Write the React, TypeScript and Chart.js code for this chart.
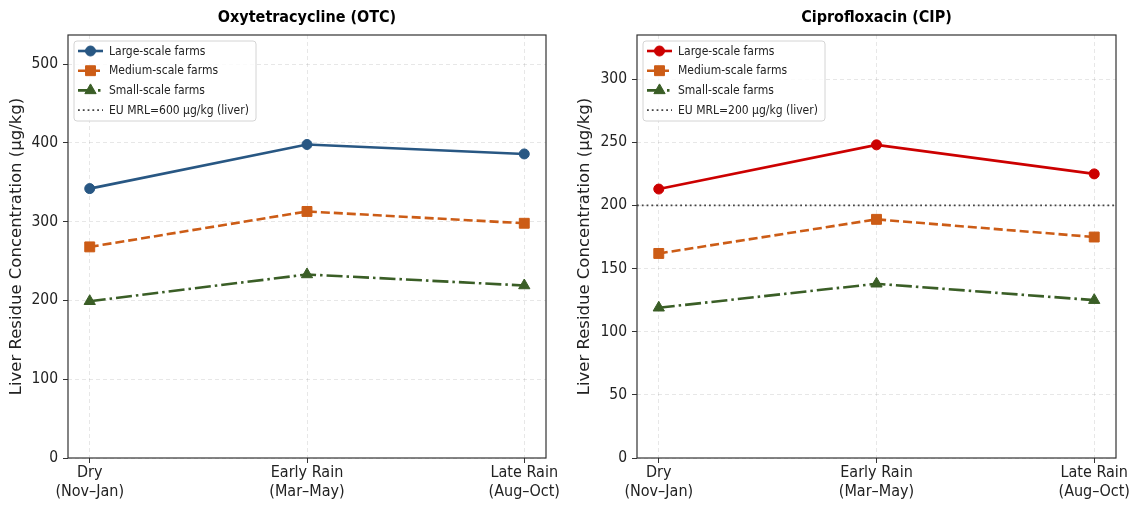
import React, { useEffect, useRef } from 'react';
import { Chart, registerables } from 'chart.js';
import { drawPoint } from 'chart.js/helpers';

Chart.register(...registerables);

const seasonLabels = [
  ['Dry', '(Nov–Jan)'],
  ['Early Rain', '(Mar–May)'],
  ['Late Rain', '(Aug–Oct)'],
];
const seriesNames = ['Large-scale farms', 'Medium-scale farms', 'Small-scale farms'];

const otcLarge = [342, 398, 386];
const otcMedium = [268, 313, 298];
const otcSmall = [199, 233, 219];
const otcMrl = 600;
const otcYMax = 537;
const otcYStep = 100;

const cipLarge = [213, 248, 225];
const cipMedium = [162, 189, 175];
const cipSmall = [119, 138, 125];
const cipMrl = 200;
const cipYMax = 335;
const cipYStep = 50;

const FONT = '"DejaVu Sans Condensed", "DejaVu Sans", sans-serif';
const FONT_V = '"DejaVu Sans", sans-serif';

const toXY = (vals: number[]) => vals.map((v, i) => ({ x: i, y: v }));

const framePlugin = {
  id: 'frame',
  afterDatasetsDraw(chart: any) {
    const { ctx, chartArea } = chart;
    ctx.save();
    ctx.strokeStyle = '#333';
    ctx.lineWidth = 1.2;
    ctx.setLineDash([]);
    ctx.strokeRect(chartArea.left, chartArea.top, chartArea.right - chartArea.left, chartArea.bottom - chartArea.top);
    ctx.restore();
  },
};

const boxLegendPlugin = {
  id: 'boxLegend',
  afterDraw(chart: any) {
    const { ctx, chartArea } = chart;
    const x0 = chartArea.left + 6;
    const y0 = chartArea.top + 6;
    const w = 182;
    const h = 80;
    ctx.save();
    ctx.beginPath();
    if (ctx.roundRect) ctx.roundRect(x0, y0, w, h, 3);
    else ctx.rect(x0, y0, w, h);
    ctx.fillStyle = 'rgba(255,255,255,0.8)';
    ctx.fill();
    ctx.strokeStyle = '#d4d4d4';
    ctx.lineWidth = 1;
    ctx.stroke();
    chart.data.datasets.forEach((ds: any, i: number) => {
      const cy = y0 + 10 + i * 19.7;
      ctx.save();
      ctx.strokeStyle = ds.borderColor;
      ctx.lineWidth = ds.borderWidth;
      ctx.setLineDash(ds.borderDash || []);
      ctx.beginPath();
      ctx.moveTo(x0 + 4, cy);
      ctx.lineTo(x0 + 29, cy);
      ctx.stroke();
      ctx.restore();
      if (ds.pointRadius > 0) {
        ctx.save();
        ctx.fillStyle = ds.pointBackgroundColor;
        ctx.strokeStyle = ds.pointBorderColor;
        ctx.lineWidth = 1;
        drawPoint(ctx, { pointStyle: ds.pointStyle, rotation: 0, radius: ds.pointRadius, borderWidth: 1 }, x0 + 16.5, cy);
        ctx.restore();
      }
      ctx.fillStyle = '#222';
      ctx.font = `12px ${FONT}`;
      ctx.textBaseline = 'middle';
      ctx.textAlign = 'left';
      ctx.fillText(ds.label, x0 + 35, cy + 0.5);
    });
    ctx.restore();
  },
};

function makeConfig(
  title: string,
  large: number[],
  medium: number[],
  small: number[],
  largeColor: string,
  mrl: number,
  yMax: number,
  yStep: number,
  yAxisWidth: number,
  rightPad: number
): any {
  const orange = '#cc5c16';
  const green = '#3a5e26';
  return {
    type: 'line',
    data: {
      datasets: [
        {
          label: seriesNames[0],
          data: toXY(large),
          borderColor: largeColor,
          backgroundColor: largeColor,
          pointBackgroundColor: largeColor,
          pointBorderColor: largeColor,
          borderWidth: 2.6,
          pointStyle: 'circle',
          pointRadius: 5,
          pointBorderWidth: 1,
        },
        {
          label: seriesNames[1],
          data: toXY(medium),
          borderColor: orange,
          backgroundColor: orange,
          pointBackgroundColor: orange,
          pointBorderColor: orange,
          borderWidth: 2.6,
          borderDash: [9, 4],
          pointStyle: 'rect',
          pointRadius: 7,
          pointBorderWidth: 1,
        },
        {
          label: seriesNames[2],
          data: toXY(small),
          borderColor: green,
          backgroundColor: green,
          pointBackgroundColor: green,
          pointBorderColor: green,
          borderWidth: 2.6,
          borderDash: [16, 4, 2.5, 4],
          pointStyle: 'triangle',
          pointRadius: 6.5,
          pointBorderWidth: 1,
        },
        {
          label: `EU MRL=${mrl} µg/kg (liver)`,
          data: [
            { x: -0.1, y: mrl },
            { x: 2.1, y: mrl },
          ],
          borderColor: '#444',
          backgroundColor: '#444',
          borderWidth: 1.8,
          borderDash: [1.8, 3],
          pointRadius: 0,
        },
      ],
    },
    options: {
      animation: false,
      responsive: false,
      devicePixelRatio: 1,
      layout: { padding: { left: 0, right: rightPad, top: 0, bottom: 0 } },
      plugins: {
        legend: { display: false },
        tooltip: { enabled: false },
        title: {
          display: true,
          text: title,
          fullSize: false,
          color: '#000',
          font: { family: FONT, size: 16, weight: 'bold', lineHeight: 1.2 },
          padding: { top: 8, bottom: 7.8 },
        },
      },
      scales: {
        x: {
          type: 'linear',
          min: -0.1,
          max: 2.1,
          afterBuildTicks: (scale: any) => {
            scale.ticks = seasonLabels.map((_, i) => ({ value: i }));
          },
          afterFit: (scale: any) => {
            scale.height = 51;
          },
          ticks: {
            callback: (v: number) => seasonLabels[Math.round(v)],
            color: '#222',
            font: { family: FONT, size: 16, lineHeight: 1.15 },
            padding: 1,
            maxRotation: 0,
            autoSkip: false,
          },
          grid: {
            color: 'rgba(0,0,0,0.12)',
            lineWidth: 0.8,
            tickColor: '#333',
            tickLength: 5,
            tickWidth: 1,
          },
          border: { display: false, dash: [4, 3] },
        },
        y: {
          type: 'linear',
          min: 0,
          max: yMax,
          afterFit: (scale: any) => {
            scale.width = yAxisWidth;
          },
          ticks: {
            stepSize: yStep,
            includeBounds: false,
            color: '#222',
            font: { family: FONT, size: 15.5 },
            padding: 5,
          },
          grid: {
            color: 'rgba(0,0,0,0.12)',
            lineWidth: 0.8,
            tickColor: '#333',
            tickLength: 5,
            tickWidth: 1,
          },
          border: { display: false, dash: [4, 3] },
          title: {
            display: true,
            text: 'Liver Residue Concentration (µg/kg)',
            color: '#222',
            font: { family: FONT_V, size: 16.5, lineHeight: 1.2 },
            padding: { top: 7, bottom: 0 },
          },
        },
      },
    },
    plugins: [framePlugin, boxLegendPlugin],
  };
}

function ChartPanel({ config }: { config: any }) {
  const ref = useRef<HTMLCanvasElement | null>(null);
  useEffect(() => {
    if (!ref.current) return;
    const chart = new Chart(ref.current, config);
    return () => chart.destroy();
  }, [config]);
  return <canvas ref={ref} width={568} height={509} style={{ display: 'block', width: 568, height: 509 }} />;
}

const otcConfig = makeConfig('Oxytetracycline (OTC)', otcLarge, otcMedium, otcSmall, '#285783', otcMrl, otcYMax, otcYStep, 68, 22);
const cipConfig = makeConfig('Ciprofloxacin (CIP)', cipLarge, cipMedium, cipSmall, '#cc0000', cipMrl, cipYMax, cipYStep, 69, 20);

export default function App() {
  return (
    <div style={{ position: 'absolute', left: 0, top: 0, width: 1136, height: 509, display: 'flex', background: '#fff' }}>
      <ChartPanel config={otcConfig} />
      <ChartPanel config={cipConfig} />
    </div>
  );
}
